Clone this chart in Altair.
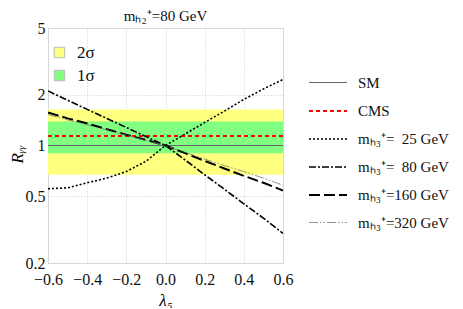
import altair as alt
import pandas as pd

# --- data ---
x_pts = [-0.6, -0.5, -0.4, -0.3, -0.2, -0.1, 0.0, 0.1, 0.2, 0.3, 0.4, 0.5, 0.6]
m25 = [0.553, 0.56, 0.60, 0.64, 0.70, 0.805, 1.0, 1.17, 1.37, 1.60, 1.88, 2.17, 2.47]
m80 = [2.11, 1.86, 1.64, 1.45, 1.28, 1.13, 1.0, 0.82, 0.67, 0.55, 0.45, 0.37, 0.30]
m160 = [1.57, 1.45, 1.35, 1.25, 1.16, 1.08, 1.0, 0.90, 0.81, 0.73, 0.66, 0.60, 0.54]
m320 = [1.53, 1.42, 1.33, 1.24, 1.15, 1.07, 1.0, 0.91, 0.83, 0.76, 0.70, 0.64, 0.58]
x_ends = [-0.6, 0.6]
sm_vals = [1.0, 1.0]
cms_vals = [1.14, 1.14]

band_names = ["2σ", "1σ"]
band_lo = [0.67, 0.90]
band_hi = [1.64, 1.39]
band_colors = ["#ffff80", "#80ff80"]

series_names = ["SM", "CMS", "mₕ₃⁺=\u200725 GeV", "mₕ₃⁺=\u200780 GeV", "mₕ₃⁺=160 GeV", "mₕ₃⁺=320 GeV"]
series_colors = ["#666666", "#ff0000", "#000000", "#000000", "#000000", "#777777"]
series_dash = [[1, 0], [4, 3], [2, 2], [7, 2, 2, 2], [11, 4], [9, 2, 1.5, 2, 1.5, 2]]
series_width = [1.0, 2.0, 1.6, 1.6, 2.0, 0.8]

x_ticks = [-0.6, -0.4, -0.2, 0.0, 0.2, 0.4, 0.6]
y_ticks = [0.2, 0.5, 1, 2, 5]

rows = []
for name, xs, ys in [
    (series_names[0], x_ends, sm_vals),
    (series_names[1], x_ends, cms_vals),
    (series_names[2], x_pts, m25),
    (series_names[3], x_pts, m80),
    (series_names[4], x_pts, m160),
    (series_names[5], x_pts, m320),
]:
    for xv, yv in zip(xs, ys):
        rows.append({"series": name, "x": xv, "y": yv})
lines_df = pd.DataFrame(rows)

bands_df = pd.DataFrame({
    "band": band_names,
    "x0": [x_ends[0]] * 2,
    "x1": [x_ends[1]] * 2,
    "lo": band_lo,
    "hi": band_hi,
})

FONT = "Liberation Serif"

xscale = alt.Scale(domain=[-0.6, 0.6], nice=False, zero=False)
yscale = alt.Scale(type="log", domain=[0.2, 5], nice=False)

xaxis = alt.Axis(
    values=x_ticks, format=".1f", labelExpr="replace(datum.label, '-', '−')",
    labelOverlap=False, labelFlush=False,
    title="λ₅", titleFontStyle="italic", titleFont=FONT, titleFontSize=17,
    titleFontWeight="normal", titleColor="#000", titlePadding=5,
    labelFont=FONT, labelFontSize=16, labelColor="#111", labelPadding=8,
    ticks=False, domain=False, grid=True, gridColor="#cccccc", gridDash=[1, 2],
)
yaxis = alt.Axis(
    values=y_ticks, labelExpr="format(datum.value, '')", labelOverlap=False,
    labelFlush=False,
    title="Rᵧᵧ", titleFontStyle="italic", titleFont=FONT, titleFontSize=17,
    titleFontWeight="normal", titleColor="#000", titleX=-22, titleY=126,
    labelFont=FONT, labelFontSize=16, labelColor="#111", labelPadding=3,
    ticks=False, domain=False, grid=True, gridColor="#cccccc", gridDash=[1, 2],
)

bands = alt.Chart(bands_df).mark_rect(opacity=1).encode(
    x=alt.X("x0:Q", scale=xscale, axis=xaxis, title="λ₅"),
    x2="x1:Q",
    y=alt.Y("lo:Q", scale=yscale, axis=yaxis, title="Rᵧᵧ"),
    y2="hi:Q",
    fill=alt.Fill(
        "band:N",
        scale=alt.Scale(domain=band_names, range=band_colors),
        sort=band_names,
        legend=alt.Legend(
            title=None, orient="none", legendX=3, legendY=16,
            symbolType="square", symbolSize=110, symbolStrokeColor="#bbbbbb",
            symbolStrokeWidth=1, labelFont=FONT, labelFontSize=17,
            labelColor="#111", rowPadding=5, labelOffset=9,
        ),
    ),
)

leg = alt.Legend(
    title=None, orient="none", legendX=260, legendY=35,
    symbolType="stroke", symbolSize=1444, labelFont=FONT, labelFontSize=15,
    labelColor="#111", rowPadding=-8.2, labelOffset=10, labelLimit=200,
)

lines = alt.Chart(lines_df).mark_line(clip=True).encode(
    x=alt.X("x:Q", scale=xscale, axis=xaxis, title="λ₅"),
    y=alt.Y("y:Q", scale=yscale, axis=yaxis, title="Rᵧᵧ"),
    stroke=alt.Stroke("series:N", sort=series_names,
                      scale=alt.Scale(type="ordinal", domain=series_names, range=series_colors),
                      legend=leg),
    strokeDash=alt.StrokeDash("series:N", sort=series_names,
                              scale=alt.Scale(type="ordinal", domain=series_names, range=series_dash),
                              legend=leg),
    strokeWidth=alt.StrokeWidth("series:N", sort=series_names,
                                scale=alt.Scale(type="ordinal", domain=series_names, range=series_width),
                                legend=leg),
    detail="series:N",
)

chart = alt.layer(bands, lines).properties(
    width=235, height=235,
    title=alt.TitleParams("mₕ₂⁺=80 GeV", font=FONT, fontSize=15, fontWeight="normal",
                          color="#111", offset=0, dy=4, anchor="middle", frame="group"),
    autosize=alt.AutoSizeParams(type="none"),
    padding={"left": 40, "top": 20, "right": 172, "bottom": 45},
).configure_view(
    stroke="#aaaaaa", strokeWidth=1
).configure(background="white")

chart.save("out.html", embed_options={"renderer": "svg", "actions": False})
